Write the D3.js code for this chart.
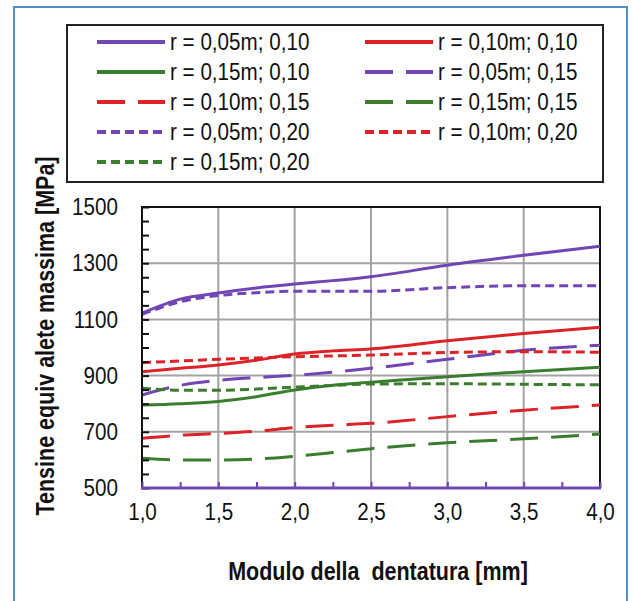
<!DOCTYPE html>
<html>
<head>
<meta charset="utf-8">
<script src="https://cdn.jsdelivr.net/npm/d3@7"></script>
<style>
  html, body { margin: 0; padding: 0; background: #ffffff; }
  svg { display: block; }
  text { font-family: "Liberation Sans", Arial, Helvetica, sans-serif; fill: #111; }
</style>
</head>
<body>
<svg id="chart" width="633" height="601"></svg>
<script>
// Modulo della dentatura [mm]
const modules = [1.0, 1.25, 1.5, 1.75, 2.0, 2.25, 2.5, 3.0, 3.5, 4.0];

// Tensione equivalente massima [MPa] per raggio / coefficiente
const r005_010 = [1122, 1172, 1194, 1212, 1226, 1238, 1252, 1293, 1328, 1360];
const r010_010 = [914, 926, 938, 955, 977, 988, 995, 1024, 1050, 1072];
const r015_010 = [795, 800, 808, 825, 849, 866, 876, 896, 914, 930];
const r005_015 = [831, 865, 883, 893, 901, 912, 926, 958, 990, 1008];
const r010_015 = [677, 688, 694, 702, 715, 723, 730, 754, 777, 795];
const r015_015 = [606, 600, 600, 603, 613, 626, 640, 661, 675, 692];
const r005_020 = [1118, 1163, 1185, 1195, 1200, 1200, 1200, 1213, 1220, 1220];
const r010_020 = [946, 952, 958, 963, 967, 970, 973, 982, 985, 983];
const r015_020 = [855, 848, 848, 852, 859, 865, 870, 871, 869, 867];

const seriesLabels = [
  "r = 0,05m; 0,10", "r = 0,10m; 0,10", "r = 0,15m; 0,10",
  "r = 0,05m; 0,15", "r = 0,10m; 0,15", "r = 0,15m; 0,15",
  "r = 0,05m; 0,20", "r = 0,10m; 0,20", "r = 0,15m; 0,20"
];
const seriesValues = [r005_010, r010_010, r015_010, r005_015, r010_015, r015_015, r005_020, r010_020, r015_020];

const xTickValues = [1.0, 1.5, 2.0, 2.5, 3.0, 3.5, 4.0];
const yTickValues = [500, 700, 900, 1100, 1300, 1500];

const xTitle = "Modulo della  dentatura [mm]";
const yTitle = "Tensine equiv alete massima [MPa]";

// styling
const PURPLE = "#7145b4", RED = "#dc2327", GREEN = "#3b7d2e";
const colorFor = i => [PURPLE, RED, GREEN][i % 3];
const dashFor = i => i < 3 ? null : (i < 6 ? "28,13" : "9,5");
const SX = 0.86; // horizontal condensing of all text

const svg = d3.select("#chart");

// outer frame
svg.append("path")
  .attr("d", "M14,601 L14,7 L627,7 L627,601")
  .attr("fill", "none").attr("stroke", "#4d8fc6").attr("stroke-width", 2);

const plot = { left: 142, right: 600, top: 207, bottom: 488 };

const x = d3.scaleLinear().domain([1, 4]).range([plot.left, plot.right]);
const y = d3.scaleLinear().domain([500, 1500]).range([plot.bottom, plot.top]);

const it = d3.formatLocale({ decimal: ",", thousands: ".", grouping: [3], currency: ["", ""] });
const fmtX = it.format(".1f");

// gridlines
svg.append("g").selectAll("line").data(xTickValues.slice(1, -1)).join("line")
  .attr("x1", d => x(d)).attr("x2", d => x(d))
  .attr("y1", plot.top).attr("y2", plot.bottom)
  .attr("stroke", "#a3a3a3").attr("stroke-width", 2);
svg.append("g").selectAll("line").data(yTickValues.slice(1, -1)).join("line")
  .attr("x1", plot.left).attr("x2", plot.right)
  .attr("y1", d => y(d)).attr("y2", d => y(d))
  .attr("stroke", "#a3a3a3").attr("stroke-width", 2);

// plot border (top, right)
svg.append("path")
  .attr("d", `M${plot.left},${plot.top} L${plot.right},${plot.top} L${plot.right},${plot.bottom}`)
  .attr("fill", "none").attr("stroke", "#111").attr("stroke-width", 2);

// series
const line = d3.line()
  .x((d, i) => x(modules[i]))
  .y(d => y(d))
  .curve(d3.curveMonotoneX);

svg.append("clipPath").attr("id", "plotclip").append("rect")
  .attr("x", plot.left).attr("y", plot.top - 2)
  .attr("width", plot.right - plot.left + 2).attr("height", plot.bottom - plot.top + 2);

svg.append("g").attr("clip-path", "url(#plotclip)")
  .selectAll("path").data(seriesValues).join("path")
  .attr("d", d => line(d))
  .attr("fill", "none")
  .attr("stroke", (d, i) => colorFor(i))
  .attr("stroke-width", 3)
  .attr("stroke-dasharray", (d, i) => dashFor(i));

// left axis: inward minor ticks every 50
const yTicksAxis = svg.append("g")
  .attr("transform", `translate(${plot.left},0)`)
  .call(d3.axisRight(y).tickValues(d3.range(500, 1501, 50)).tickSize(7).tickFormat(""));
yTicksAxis.select(".domain").remove();
yTicksAxis.selectAll("line").attr("stroke", "#111").attr("stroke-width", 2);
svg.append("line")
  .attr("x1", plot.left).attr("x2", plot.left)
  .attr("y1", plot.top - 1).attr("y2", plot.bottom)
  .attr("stroke", "#111").attr("stroke-width", 2);

// left axis labels
const yLab = svg.append("g")
  .attr("transform", `translate(${plot.left},0)`)
  .call(d3.axisLeft(y).tickValues(yTickValues).tickSize(0).tickPadding(24).tickFormat(d3.format("d")));
yLab.select(".domain").remove();
yLab.attr("font-family", null).attr("font-size", null);
yLab.selectAll("text")
  .attr("font-size", 24).attr("fill", "#111")
  .attr("x", -24 / SX)
  .attr("transform", `scale(${SX},1)`);

// bottom axis (purple) with upward ticks every 0.25
const xTicksAxis = svg.append("g")
  .attr("transform", `translate(0,${plot.bottom})`)
  .call(d3.axisTop(x).tickValues(d3.range(1, 4.01, 0.25)).tickSize(6).tickFormat(""));
xTicksAxis.select(".domain").remove();
xTicksAxis.selectAll("line").attr("stroke", PURPLE).attr("stroke-width", 2);
svg.append("line")
  .attr("x1", plot.left - 1).attr("x2", plot.right + 1)
  .attr("y1", plot.bottom).attr("y2", plot.bottom)
  .attr("stroke", PURPLE).attr("stroke-width", 3);

const xLab = svg.append("g")
  .attr("transform", `translate(0,${plot.bottom})`)
  .call(d3.axisBottom(x).tickValues(xTickValues).tickSize(0).tickPadding(15).tickFormat(fmtX));
xLab.select(".domain").remove();
xLab.attr("font-family", null).attr("font-size", null);
xLab.selectAll("text")
  .attr("font-size", 24).attr("fill", "#111")
  .attr("transform", `scale(${SX},1)`);

// axis titles
svg.append("text")
  .attr("transform", `translate(378,580) scale(${SX},1)`)
  .attr("text-anchor", "middle")
  .attr("font-size", 25).attr("font-weight", "bold")
  .style("white-space", "pre")
  .text(xTitle);

svg.append("text")
  .attr("transform", `translate(54,336) rotate(-90) scale(${SX},1)`)
  .attr("text-anchor", "middle")
  .attr("font-size", 25).attr("font-weight", "bold")
  .text(yTitle);

// legend
svg.append("rect")
  .attr("x", 67).attr("y", 25).attr("width", 536).attr("height", 157)
  .attr("fill", "#fff").attr("stroke", "#222").attr("stroke-width", 2);

const legendCols = [97, 365];
const legendRow0 = 42, legendRowStep = 30, legendLineLen = 68;
const items = svg.append("g").selectAll("g").data(seriesLabels).join("g")
  .attr("transform", (d, i) => `translate(${legendCols[i % 2]},${legendRow0 + Math.floor(i / 2) * legendRowStep})`);
items.append("line")
  .attr("x1", 0).attr("x2", legendLineLen).attr("y1", 0).attr("y2", 0)
  .attr("stroke", (d, i) => colorFor(i))
  .attr("stroke-width", 4)
  .attr("stroke-dasharray", (d, i) => dashFor(i));
items.append("text")
  .attr("transform", `translate(${legendLineLen + 5},0) scale(${SX},1)`)
  .attr("dy", "0.35em")
  .attr("font-size", 24)
  .text(d => d);
</script>
</body>
</html>
